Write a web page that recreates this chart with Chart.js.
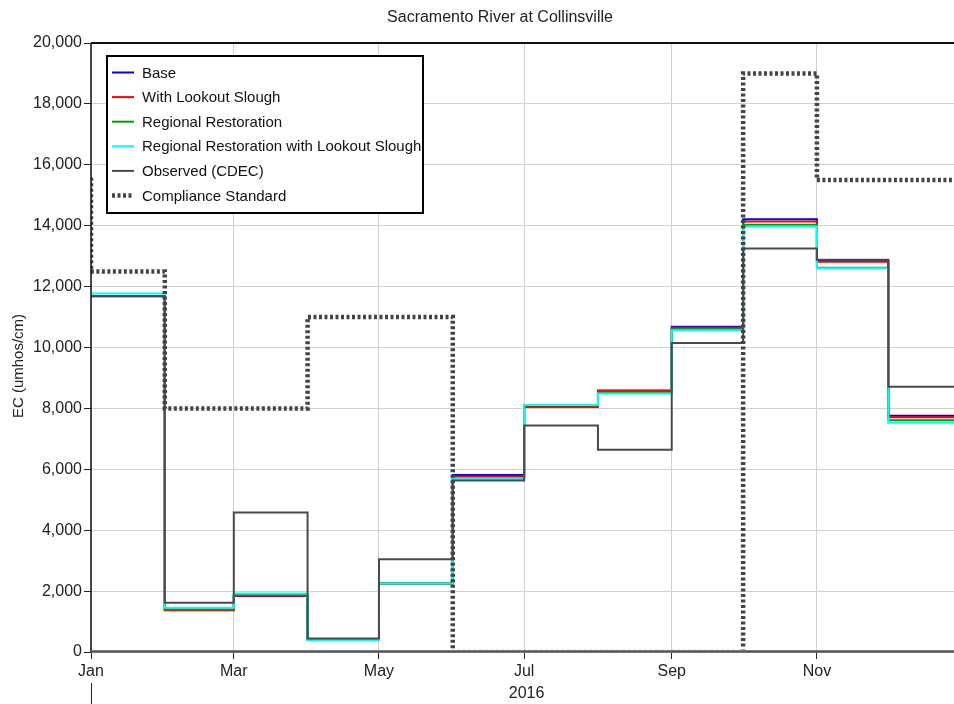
<!DOCTYPE html>
<html>
<head>
<meta charset="utf-8">
<script src="https://cdn.jsdelivr.net/npm/chart.js@4.4.1/dist/chart.umd.min.js"></script>
<style>
  html, body { margin: 0; padding: 0; background: #ffffff; }
  #wrap { width: 954px; height: 704px; }
</style>
</head>
<body>
<div id="wrap"><canvas id="chart" width="954" height="704"></canvas></div>
<script>
// Monthly EC (umhos/cm), Sacramento River at Collinsville, 2016.
const monthNames = ['Jan', 'Feb', 'Mar', 'Apr', 'May', 'Jun', 'Jul', 'Aug', 'Sep', 'Oct', 'Nov', 'Dec'];
// Day offset (from 1 Jan 2016) at which each month begins.
const monthStart = [0, 31, 60, 91, 121, 152, 182, 213, 244, 274, 305, 335];
const yearEndDay = 366;          // 1 Jan 2017
const priorMonthStart = -31;     // 1 Dec 2015
const yearLabel = '2016';

const baseEC        = [11690, 1370, 1840, 410, 2250, 5810, 8100, 8590, 10680, 14210, 12860, 7760];
const lookoutEC     = [11690, 1380, 1850, 410, 2250, 5760, 8050, 8570, 10650, 14140, 12820, 7710];
const regionalEC    = [11680, 1400, 1880, 400, 2260, 5700, 8100, 8510, 10600, 14030, 12620, 7610];
const regionalLkEC  = [11770, 1450, 1920, 385, 2250, 5700, 8110, 8490, 10570, 13970, 12600, 7530];
const observedEC    = [11680, 1620, 4580, 440, 3050, 5630, 7440, 6640, 10150, 13250, 12880, 8710];
const complianceDec2015 = 15500;
const complianceEC  = [12500, 8000, 8000, 11000, 11000, 0, 0, 0, 0, 19000, 15500, 15500];

const yTicks = [0, 2000, 4000, 6000, 8000, 10000, 12000, 14000, 16000, 18000, 20000];
const xTickMonths = [0, 2, 4, 6, 8, 10];

// Each monthly value holds until the next month begins.
function monthlySteps(values, leading) {
  const pts = [];
  if (leading !== undefined) pts.push({ x: priorMonthStart, y: leading });
  values.forEach((v, i) => pts.push({ x: monthStart[i], y: v }));
  pts.push({ x: yearEndDay, y: values[values.length - 1] });
  return pts;
}

const series = [
  { label: 'Base', data: baseEC, color: '#0000ff', width: 2, order: 6 },
  { label: 'With Lookout Slough', data: lookoutEC, color: '#ff0000', width: 2, order: 5 },
  { label: 'Regional Restoration', data: regionalEC, color: '#00a000', width: 2, order: 4 },
  { label: 'Regional Restoration with Lookout Slough', data: regionalLkEC, color: '#00ffff', width: 2, order: 3 },
  { label: 'Observed (CDEC)', data: observedEC, color: '#4a4a4a', width: 2, order: 2 },
  { label: 'Compliance Standard', data: complianceEC, lead: complianceDec2015, color: '#444444', width: 4.5, dash: [3, 2.5], order: 1 }
];

const datasets = series.map(s => ({
  label: s.label,
  data: monthlySteps(s.data, s.lead),
  borderColor: s.color,
  backgroundColor: s.color,
  borderWidth: s.width,
  borderDash: s.dash || [],
  stepped: true,
  fill: false,
  pointRadius: 0,
  pointHoverRadius: 0,
  tension: 0,
  order: s.order,
  // the standard's zero stretch sits under the x axis line
  clip: s.dash ? { left: 0, top: 0, right: 0, bottom: -2.5 } : undefined
}));

const FONT = '"Liberation Sans", Arial, sans-serif';

// Title, boxed legend, axis frame and year label.
const decorations = {
  id: 'decorations',
  afterDatasetsDraw(chart) {
    const { ctx, chartArea: a } = chart;
    ctx.save();
    ctx.strokeStyle = '#111';
    ctx.lineWidth = 2;
    ctx.beginPath(); ctx.moveTo(a.left, a.top); ctx.lineTo(a.right, a.top); ctx.stroke();
    ctx.lineWidth = 1.5;
    ctx.beginPath(); ctx.moveTo(a.left, a.top); ctx.lineTo(a.left, a.bottom); ctx.stroke();
    ctx.strokeStyle = '#555';
    ctx.lineWidth = 2.5;
    ctx.beginPath(); ctx.moveTo(a.left, a.bottom - 0.5); ctx.lineTo(a.right, a.bottom - 0.5); ctx.stroke();
    ctx.restore();
  },
  afterDraw(chart) {
    const { ctx, chartArea: a, scales } = chart;
    ctx.save();
    // title
    ctx.fillStyle = '#222';
    ctx.font = '16px ' + FONT;
    ctx.textAlign = 'center';
    ctx.textBaseline = 'middle';
    ctx.fillText('Sacramento River at Collinsville', 500, 18);

    // year label and separator
    const x0 = scales.x.getPixelForValue(0);
    const x1 = scales.x.getPixelForValue(yearEndDay);
    ctx.fillText(yearLabel, (x0 + x1) / 2, 694);
    ctx.strokeStyle = '#222';
    ctx.lineWidth = 1;
    ctx.beginPath(); ctx.moveTo(x0 + 0.5, 683); ctx.lineTo(x0 + 0.5, 704); ctx.stroke();

    // y axis title
    ctx.save();
    ctx.translate(19, 366);
    ctx.rotate(-Math.PI / 2);
    ctx.font = '15px ' + FONT;
    ctx.fillText('EC (umhos/cm)', 0, 0);
    ctx.restore();

    // legend
    const lx = 107, ly = 56, lw = 316, lh = 157;
    ctx.fillStyle = '#fff';
    ctx.fillRect(lx, ly, lw, lh);
    ctx.strokeStyle = '#000';
    ctx.lineWidth = 2;
    ctx.strokeRect(lx, ly, lw, lh);
    ctx.font = '15px ' + FONT;
    ctx.textAlign = 'left';
    chart.data.datasets.forEach((ds, i) => {
      const y = 72.5 + i * 24.6;
      ctx.strokeStyle = ds.borderColor;
      ctx.lineWidth = ds.borderDash.length ? 4.5 : 2;
      ctx.setLineDash(ds.borderDash.length ? [3, 2.5] : []);
      ctx.beginPath(); ctx.moveTo(112, y); ctx.lineTo(134, y); ctx.stroke();
      ctx.setLineDash([]);
      ctx.fillStyle = '#111';
      ctx.fillText(ds.label, 142, y + 1);
    });
    ctx.restore();
  }
};

new Chart(document.getElementById('chart'), {
  type: 'line',
  data: { datasets },
  options: {
    responsive: false,
    animation: false,
    events: [],
    layout: { padding: { top: 43, left: 0, right: 0, bottom: 0 } },
    plugins: { legend: { display: false }, title: { display: false }, tooltip: { enabled: false } },
    scales: {
      x: {
        type: 'linear',
        min: 0,
        max: 362.6,
        afterFit(scale) { scale.height = 52; },
        afterBuildTicks(scale) { scale.ticks = xTickMonths.map(m => ({ value: monthStart[m] })); },
        ticks: {
          autoSkip: false,
          maxRotation: 0,
          padding: 3,
          color: '#222',
          font: { family: FONT, size: 16 },
          callback(value) { return monthNames[monthStart.indexOf(value)]; }
        },
        grid: { color: '#d2d2d2', lineWidth: 1, tickLength: 7, tickColor: '#222', drawTicks: true },
        border: { display: false }
      },
      y: {
        min: 0,
        max: 20000,
        afterFit(scale) { scale.width = 91; },
        afterBuildTicks(scale) { scale.ticks = yTicks.map(v => ({ value: v })); },
        ticks: {
          padding: 2,
          color: '#222',
          font: { family: FONT, size: 16 },
          callback(value) { return value.toLocaleString('en-US'); }
        },
        grid: { color: '#d2d2d2', lineWidth: 1, tickLength: 7, tickColor: '#222', drawTicks: true },
        border: { display: false }
      }
    }
  },
  plugins: [decorations]
});
</script>
</body>
</html>
